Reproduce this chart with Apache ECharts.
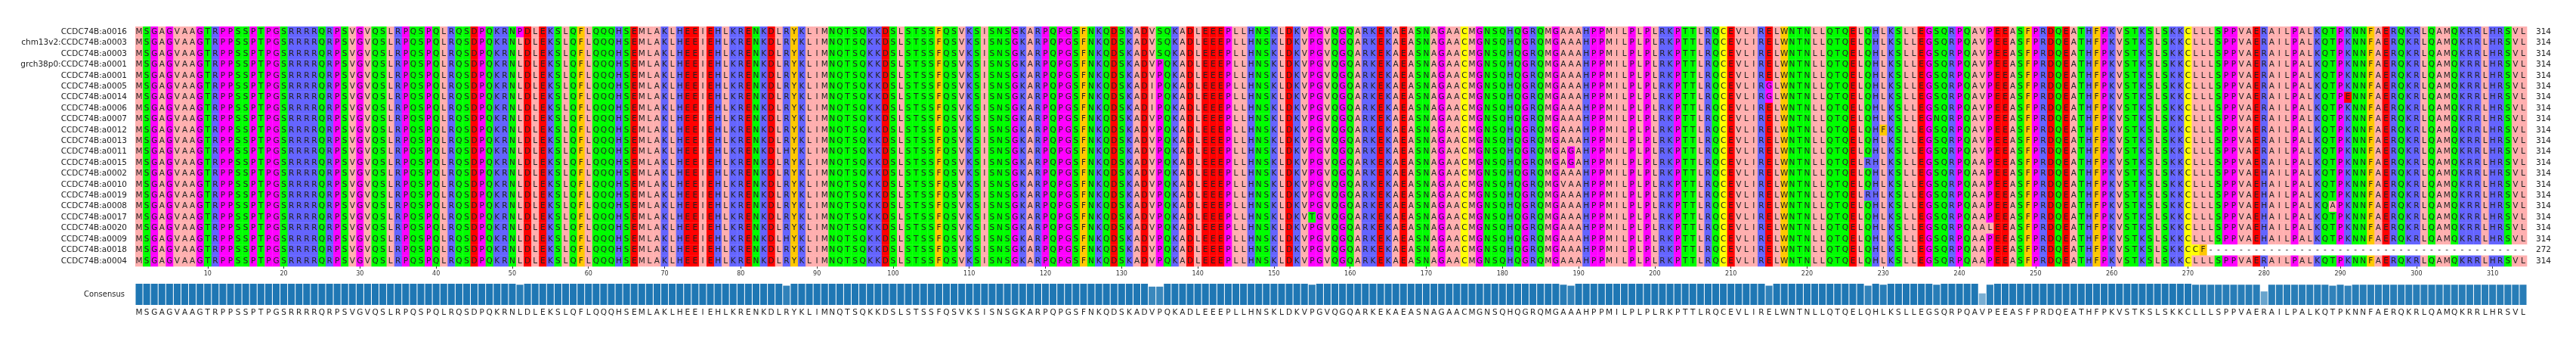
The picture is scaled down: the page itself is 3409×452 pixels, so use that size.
<!DOCTYPE html>
<html><head><meta charset="utf-8">
<script src="https://cdn.jsdelivr.net/npm/echarts@6/dist/echarts.min.js"></script>
<style>html,body{margin:0;padding:0;background:#fff}#c{width:3409px;height:452px}</style>
</head><body><div id="c"></div>
<script>
const names = ["CCDC74B:a0016","chm13v2:CCDC74B:a0003","CCDC74B:a0003","grch38p0:CCDC74B:a0001","CCDC74B:a0001","CCDC74B:a0005","CCDC74B:a0014","CCDC74B:a0006","CCDC74B:a0007","CCDC74B:a0012","CCDC74B:a0013","CCDC74B:a0011","CCDC74B:a0015","CCDC74B:a0002","CCDC74B:a0010","CCDC74B:a0019","CCDC74B:a0008","CCDC74B:a0017","CCDC74B:a0020","CCDC74B:a0009","CCDC74B:a0018","CCDC74B:a0004"];
const baseSeq = "MSGAGVAAGTRPPSSPTPGSRRRRQRPSVGVQSLRPQSPQLRQSDPQKRNLDLEKSLQFLQQQHSEMLAKLHEEIEHLKRENKDLRYKLIMNQTSQKKDSLSTSSFQSVKSISNSGKARPQPGSFNKQDSKADVPQKADLEEEPLLHNSKLDKVPGVQGQARKEKAEASNAGAACMGNSQHQGRQMGAAAHPPMILPLPLRKPTTLRQCEVLIRELWNTNLLQTQELQHLKSLLEGSQRPQAVPEEASFPRDQEATHFPKVSTKSLSKKCLLLSPPVAERAILPALKQTPKNNFAERQKRLQAMQKRRLHRSVL";
// [context, offset, residue, rows]
const variants = [
 ["QKRNLDLE",4,"P",[0]],
 ["KDLRYK",3,"H",[11,19]],
 ["KADVPQK",4,"S",[0,1,2]],
 ["KADVPQK",3,"I",[5,6,7]],
 ["DKVPGVQ",3,"T",[17]],
 ["QMGAAAH",4,"G",[11,12]],
 ["QMGAAAH",3,"V",[14]],
 ["VLIREL",4,"G",[5,6]],
 ["TQELQHLK",4,"R",[12,15]],
 ["ELQHLKS",4,"F",[9]],
 ["LEGSQRP",3,"N",[8]],
 ["PQAVPEE",3,"A",[12,13,14,15,16,17,18,19,20,21]],
 ["PQAVPEE",4,"L",[18]],
 ["PVAERAIL",4,"H",[13,14,15,16,17,18,19]],
 ["KQTPKNN",2,"A",[16]],
 ["QTPKNNF",3,"E",[6]],
 ["SKKCLLLS",4,"C",[20]],
 ["SKKCLLLS",5,"F",[20]]
];
const truncations = [["SKKCLLLS",6,[20]]];
const tickLabels = [10,20,30,40,50,60,70,80,90,100,110,120,130,140,150,160,170,180,190,200,210,220,230,240,250,260,270,280,290,300,310];

const seqs = names.map(()=>baseSeq.split(''));
variants.forEach(([ctx,off,res,rows])=>{const p=baseSeq.indexOf(ctx)+off;rows.forEach(r=>seqs[r][p]=res);});
truncations.forEach(([ctx,off,rows])=>{const p=baseSeq.indexOf(ctx)+off;rows.forEach(r=>{for(let i=p;i<baseSeq.length;i++)seqs[r][i]='-';});});
const L = baseSeq.length;
const cols = Array.from({length:L},(_,i)=>String(i+1));
const lengths = seqs.map(s=>String(s.filter(c=>c!=='-').length));
const zappo = {I:'#ffafaf',L:'#ffafaf',V:'#ffafaf',A:'#ffafaf',M:'#ffafaf',F:'#ffc800',W:'#ffc800',Y:'#ffc800',K:'#6464ff',R:'#6464ff',H:'#6464ff',D:'#ff0000',E:'#ff0000',S:'#00ff00',T:'#00ff00',N:'#00ff00',Q:'#00ff00',P:'#ff00ff',G:'#ff00ff',C:'#ffff00','-':'#ffffff'};
const cells=[],chars=[];
seqs.forEach((s,r)=>s.forEach((c,i)=>{cells.push([i,r]);chars.push(c);}));
const cons=[],consVal=[];
for(let i=0;i<L;i++){const cnt={};seqs.forEach(s=>{cnt[s[i]]=(cnt[s[i]]||0)+1;});let best=null,bn=0;for(const k in cnt){if(k!=='-'&&cnt[k]>bn){bn=cnt[k];best=k;}}cons.push(best);consVal.push(bn/seqs.length);}
function mix(v){const t=(1-v)*0.9;const a=[0x1f,0x77,0xb4];return 'rgb('+a.map(x=>Math.round(x+(255-x)*t)).join(',')+')';}
const ch=echarts.init(document.getElementById('c'));
const F='DejaVu Sans';
ch.setOption({animation:false,
 grid:[{left:179,top:35,width:3165,height:317},{left:179,top:375,width:3165,height:28}],
 xAxis:[{type:'category',gridIndex:0,data:cols,position:'bottom',axisLine:{show:false},
   axisTick:{show:true,alignWithLabel:true,length:3,interval:(i)=>tickLabels.includes(i+1),lineStyle:{color:'#333'}},
   axisLabel:{interval:(i)=>tickLabels.includes(i+1),fontSize:8,fontFamily:F,color:'#333',margin:6}},
  {type:'category',gridIndex:1,data:cons,axisLine:{show:false},axisTick:{show:false},
   axisLabel:{interval:0,fontSize:10.5,fontFamily:F,color:'#222',margin:5}}],
 yAxis:[{type:'category',gridIndex:0,data:names,inverse:true,axisLine:{show:false},axisTick:{show:false},
   axisLabel:{fontSize:10.5,fontFamily:F,color:'#222',margin:11}},
  {type:'category',gridIndex:0,data:lengths,inverse:true,position:'right',axisLine:{show:false},axisTick:{show:false},
   axisLabel:{fontSize:10.5,fontFamily:F,color:'#222',margin:12}},
  {type:'value',gridIndex:1,min:0,max:1,show:true,axisLine:{show:false},axisTick:{show:false},axisLabel:{show:false},splitLine:{show:false},
   name:'Consensus',nameLocation:'middle',nameRotate:0,nameGap:14,nameTextStyle:{align:'right',fontSize:10,fontFamily:F,color:'#222'}}],
 series:[{type:'custom',xAxisIndex:0,yAxisIndex:0,data:cells,progressive:0,animation:false,
   renderItem:(p,api)=>{const i=api.value(0),r=api.value(1),c=chars[p.dataIndex];const pt=api.coord([i,r]);const sz=api.size([1,1]);
    return {type:'group',children:[{type:'rect',shape:{x:pt[0]-sz[0]/2,y:pt[1]-sz[1]/2,width:sz[0]+0.3,height:sz[1]+0.3},style:{fill:zappo[c]||'#fff'}},
     {type:'text',x:pt[0],y:pt[1],style:{text:c,fill:'#222',font:'10.5px DejaVu Sans',align:'center',verticalAlign:'middle'}}]};}},
  {type:'bar',xAxisIndex:1,yAxisIndex:2,barCategoryGap:'10%',data:consVal.map(v=>({value:v,itemStyle:{color:mix(v)}}))}]
});
</script></body></html>
